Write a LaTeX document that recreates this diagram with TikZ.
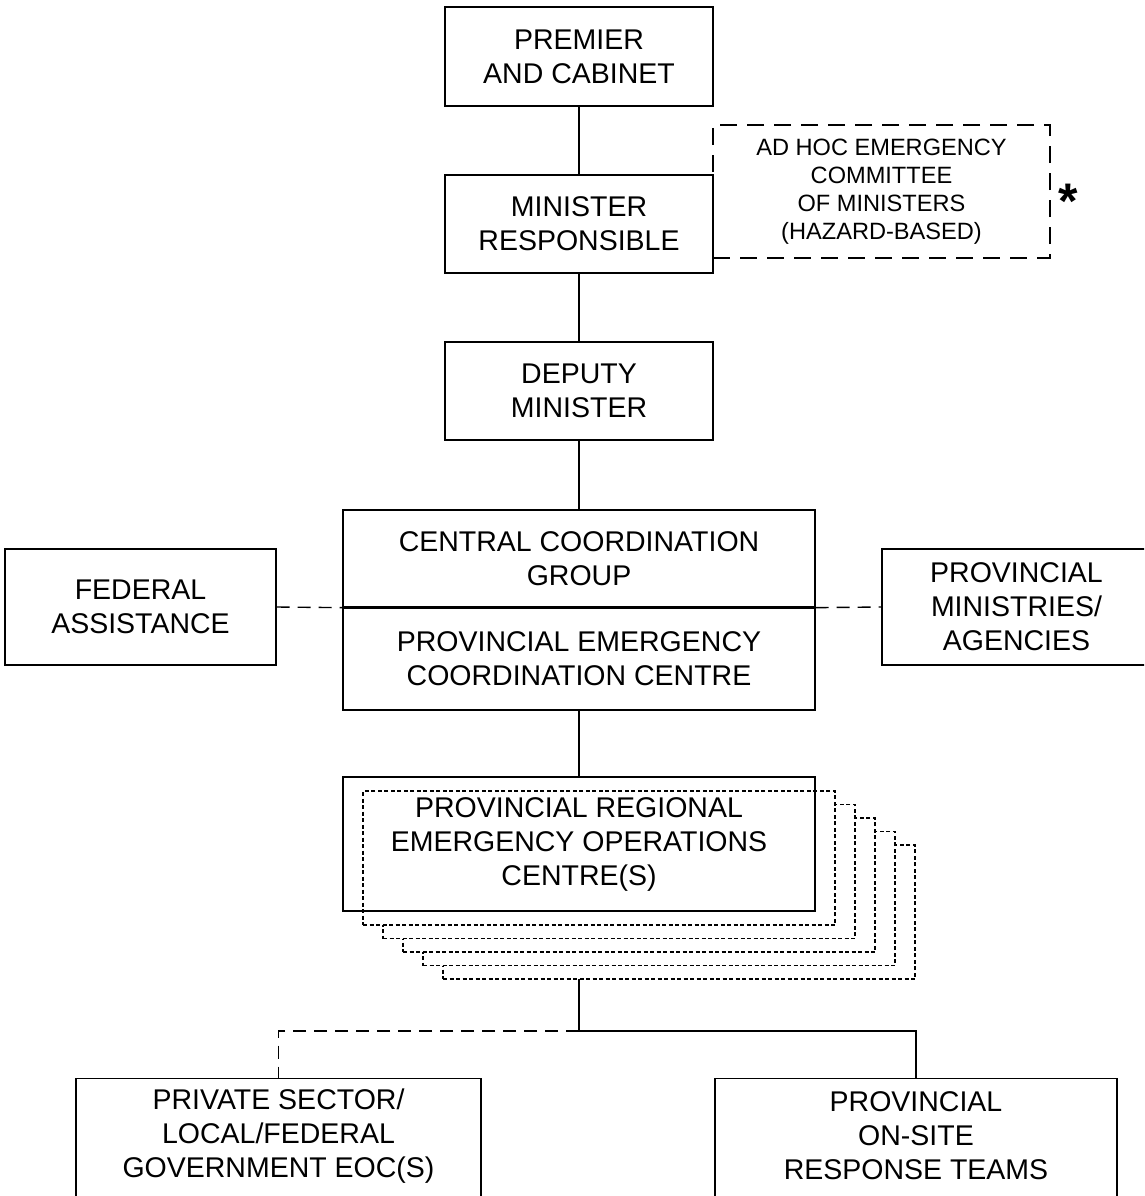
\documentclass[tikz,border=0pt]{standalone}
\usepackage{fontspec}
\setmainfont{Liberation Sans}
\begin{document}
\begin{tikzpicture}[x=1pt,y=-1pt,
  box/.style={draw, line width=1.3pt, align=center, inner sep=0pt,
    font=\fontsize{28.5}{34}\selectfont},
  txt/.style={align=center, inner sep=0pt, font=\fontsize{28.5}{34}\selectfont},
  conn/.style={line width=1.3pt},
  dconn/.style={line width=1.4pt, dash pattern=on 13pt off 8pt},
  stackbox/.style={draw, fill=white, line width=1.2pt, dash pattern=on 4pt off 2.5pt,
    minimum width=472pt, minimum height=134pt, inner sep=0pt},
  adhoc/.style={draw, line width=1.3pt, dash pattern=on 17pt off 10pt, align=center,
    inner sep=0pt, minimum width=337pt, minimum height=133pt,
    font=\fontsize{23.6}{28}\selectfont}]
\useasboundingbox (0,0) rectangle (1144,1196);
\clip (0,0) rectangle (1144,1196);

% committee (drawn first so minister box overlays shared edge)
\node[adhoc] (adhoc) at (881.5,191.5) {AD HOC EMERGENCY\\COMMITTEE\\OF MINISTERS\\(HAZARD-BASED)};
\node[font=\bfseries\fontsize{50}{50}\selectfont, inner sep=0pt, anchor=center] (star) at (1068,201) {*};

\node[box, minimum width=268pt, minimum height=99pt] (premier) at (579,56.5) {PREMIER\\AND CABINET};
\node[box, minimum width=268pt, minimum height=98pt] (minister) at (579,224) {MINISTER\\RESPONSIBLE};
\node[box, minimum width=268pt, minimum height=98pt] (deputy) at (579,391) {DEPUTY\\MINISTER};

\node[box, minimum width=472pt, minimum height=97pt] (ccg) at (579,558.5) {CENTRAL COORDINATION\\GROUP};
\node[box, minimum width=472pt, minimum height=103pt] (pecc) at (579,658.5) {PROVINCIAL EMERGENCY\\COORDINATION CENTRE};
\draw[line width=2.2pt] (ccg.south west) -- (ccg.south east);

\node[box, minimum width=271pt, minimum height=116pt] (federal) at (140.5,607) {FEDERAL\\ASSISTANCE};
\node[box, minimum width=269pt, minimum height=116pt] (provmin) at (1016.5,607) {PROVINCIAL\\MINISTRIES/\\AGENCIES};

% regional stack
\node[stackbox] (rs5) at (679,912) {};
\node[stackbox] (rs4) at (659,898.5) {};
\node[stackbox] (rs3) at (639,885) {};
\node[stackbox] (rs2) at (619,871.5) {};
\node[stackbox] (rs1) at (599,858) {};
\node[box, minimum width=472pt, minimum height=134pt] (regional) at (579,844) {PROVINCIAL REGIONAL\\EMERGENCY OPERATIONS\\CENTRE(S)};

% bottom boxes
\node[box, anchor=north, minimum width=405pt, minimum height=160pt] (private) at (278.5,1078) {};
\node[txt] (privatetxt) at (278.5,1136) {PRIVATE SECTOR/\\LOCAL/FEDERAL\\GOVERNMENT EOC(S)};
\node[box, anchor=north, minimum width=402pt, minimum height=160pt] (teams) at (916,1078) {};
\node[txt] (teamstxt) at (916,1136) {PROVINCIAL\\ON-SITE\\RESPONSE TEAMS};

% connectors
\draw[conn] (premier.south) -- (minister.north);
\draw[conn] (minister.south) -- (deputy.north);
\draw[conn] (deputy.south) -- (ccg.north);
\draw[conn] (pecc.south) -- (regional.north);
\draw[dconn] (federal.east) -- (ccg.south west);
\draw[dconn] (ccg.south east) -- (provmin.west);
\coordinate (junction) at (579,1031);
\draw[conn] (579,979) -- (junction);
\draw[conn] (junction) -| (teams.north);
\draw[dconn] (junction) -| (private.north);
\end{tikzpicture}
\end{document}
